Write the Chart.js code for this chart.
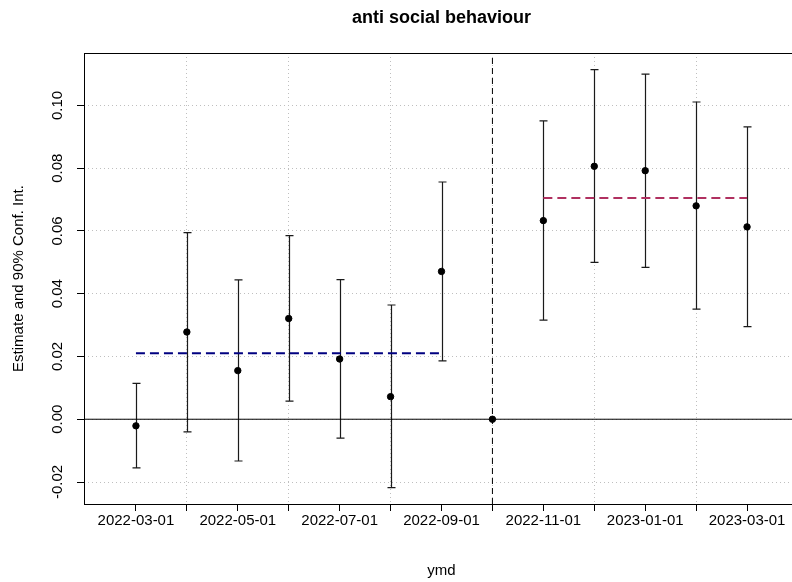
<!DOCTYPE html>
<html>
<head>
<meta charset="utf-8">
<script src="https://cdn.jsdelivr.net/npm/chart.js@4/dist/chart.umd.min.js"></script>
<style>
  html, body { margin: 0; padding: 0; background: #fff; width: 792px; height: 582px; overflow: hidden; }
  #wrap { position: relative; width: 810px; height: 582px; }
  canvas { display: block; }
</style>
</head>
<body>
<div id="wrap"><canvas id="c" width="810" height="582"></canvas></div>
<script>
// Monthly event-study estimates with 90% confidence intervals
const dates = ['2022-03-01', '2022-04-01', '2022-05-01', '2022-06-01', '2022-07-01', '2022-08-01',
               '2022-09-01', '2022-10-01', '2022-11-01', '2022-12-01', '2023-01-01', '2023-02-01', '2023-03-01'];
const estimate = [-0.0021, 0.0278, 0.0155, 0.0321, 0.0192, 0.0072, 0.0471, 0.0, 0.0633, 0.0806, 0.0792, 0.0680, 0.0613];
const ciLow    = [-0.0155, -0.0040, -0.0133, 0.0058, -0.0060, -0.0218, 0.0186, null, 0.0316, 0.0500, 0.0484, 0.0351, 0.0295];
const ciHigh   = [0.0114, 0.0595, 0.0444, 0.0585, 0.0445, 0.0364, 0.0756, null, 0.0951, 0.1114, 0.1100, 0.1011, 0.0932];
const refIndex = 7;              // reference month (normalised to zero)
const preMean = 0.0210;          // average effect before the reference month
const postMean = 0.0705;         // average effect after the reference month
const yTicks = [-0.02, 0.00, 0.02, 0.04, 0.06, 0.08, 0.10];
const yRange = [-0.02701, 0.11671];
const xRange = [-1.02, 13.02];

const FONT = '"Liberation Sans", Arial, Helvetica, sans-serif';
Chart.defaults.font.family = FONT;
Chart.defaults.color = '#000';

const idx = dates.map((d, i) => i);
const points = idx.map(i => ({ x: i, y: estimate[i] }));
const preIdx = idx.filter(i => i < refIndex);
const postIdx = idx.filter(i => i > refIndex);

// error bars with end caps
const errorBars = {
  id: 'errorBars',
  beforeDatasetsDraw(chart) {
    const { ctx, scales: { x, y } } = chart;
    ctx.save();
    ctx.strokeStyle = '#1a1a1a';
    ctx.lineWidth = 1.2;
    const cap = 4;
    idx.forEach(i => {
      if (ciLow[i] == null || ciHigh[i] == null) return;
      const px = Math.round(x.getPixelForValue(i)) + 0.5;
      const lo = y.getPixelForValue(ciLow[i]);
      const hi = y.getPixelForValue(ciHigh[i]);
      ctx.beginPath();
      ctx.moveTo(px, lo); ctx.lineTo(px, hi);
      ctx.moveTo(px - cap, lo); ctx.lineTo(px + cap, lo);
      ctx.moveTo(px - cap, hi); ctx.lineTo(px + cap, hi);
      ctx.stroke();
    });
    ctx.restore();
  }
};

// plot frame and main title
const frame = {
  id: 'frame',
  afterDraw(chart) {
    const { ctx, chartArea: a } = chart;
    ctx.save();
    ctx.strokeStyle = '#000';
    ctx.lineWidth = 1;
    ctx.strokeRect(Math.round(a.left) + 0.5, Math.round(a.top) + 0.5,
                   Math.round(a.right - a.left), Math.round(a.bottom - a.top));
    ctx.fillStyle = '#000';
    ctx.font = 'bold 18px ' + FONT;
    ctx.textAlign = 'center';
    ctx.textBaseline = 'middle';
    ctx.fillText('anti social behaviour', (a.left + a.right) / 2, 18);
    ctx.restore();
  }
};

new Chart(document.getElementById('c'), {
  type: 'scatter',
  data: {
    datasets: [
      {
        label: 'Estimate',
        data: points,
        backgroundColor: '#000',
        borderColor: '#000',
        pointRadius: 3.2,
        pointHoverRadius: 3.2,
        showLine: false
      },
      {
        label: 'Pre mean',
        data: [{ x: preIdx[0], y: preMean }, { x: preIdx[preIdx.length - 1], y: preMean }],
        showLine: true,
        borderColor: '#000080',
        borderWidth: 2,
        borderDash: [9, 5],
        pointRadius: 0
      },
      {
        label: 'Post mean',
        data: [{ x: postIdx[0], y: postMean }, { x: postIdx[postIdx.length - 1], y: postMean }],
        showLine: true,
        borderColor: '#B03060',
        borderWidth: 2,
        borderDash: [9, 5],
        pointRadius: 0
      },
      {
        label: 'Zero',
        data: [{ x: xRange[0], y: 0 }, { x: xRange[1], y: 0 }],
        showLine: true,
        borderColor: '#000',
        borderWidth: 1,
        pointRadius: 0
      },
      {
        label: 'Reference',
        data: [{ x: refIndex, y: yRange[0] }, { x: refIndex, y: yRange[1] }],
        showLine: true,
        borderColor: '#000',
        borderWidth: 1,
        borderDash: [6, 4],
        pointRadius: 0
      }
    ]
  },
  options: {
    responsive: false,
    animation: false,
    layout: { padding: { top: 53, right: 11, bottom: 0, left: 0 } },
    plugins: { legend: { display: false }, tooltip: { enabled: false }, title: { display: false } },
    scales: {
      x: {
        type: 'linear',
        min: xRange[0],
        max: xRange[1],
        afterBuildTicks: s => { s.ticks = idx.map(i => ({ value: i })); },
        afterFit: s => { s.height = 78; },
        ticks: {
          autoSkip: false,
          maxRotation: 0,
          minRotation: 0,
          padding: 1,
          font: { size: 15 },
          callback: v => (v % 2 === 0 ? dates[v] : '')
        },
        grid: {
          color: c => (c.tick && c.tick.value % 2 === 1) ? '#bfbfbf' : 'rgba(0,0,0,0)',
          lineWidth: 1,
          tickColor: '#000',
          tickLength: 7,
          tickWidth: 1
        },
        border: { display: false, dash: [1, 3] },
        title: { display: true, text: 'ymd', font: { size: 15 }, padding: 2 }
      },
      y: {
        type: 'linear',
        min: yRange[0],
        max: yRange[1],
        afterBuildTicks: s => { s.ticks = yTicks.map(v => ({ value: v })); },
        afterFit: s => { s.width = 84; },
        ticks: {
          minRotation: 90,
          maxRotation: 90,
          crossAlign: 'center',
          padding: 2,
          font: { size: 15 },
          callback: v => Number(v).toFixed(2)
        },
        grid: {
          color: '#bfbfbf',
          lineWidth: 1,
          tickColor: '#000',
          tickLength: 7,
          tickWidth: 1
        },
        border: { display: false, dash: [1, 3] },
        title: { display: true, text: 'Estimate and 90% Conf. Int.', font: { size: 15 }, padding: 10 }
      }
    }
  },
  plugins: [errorBars, frame]
});
</script>
</body>
</html>
